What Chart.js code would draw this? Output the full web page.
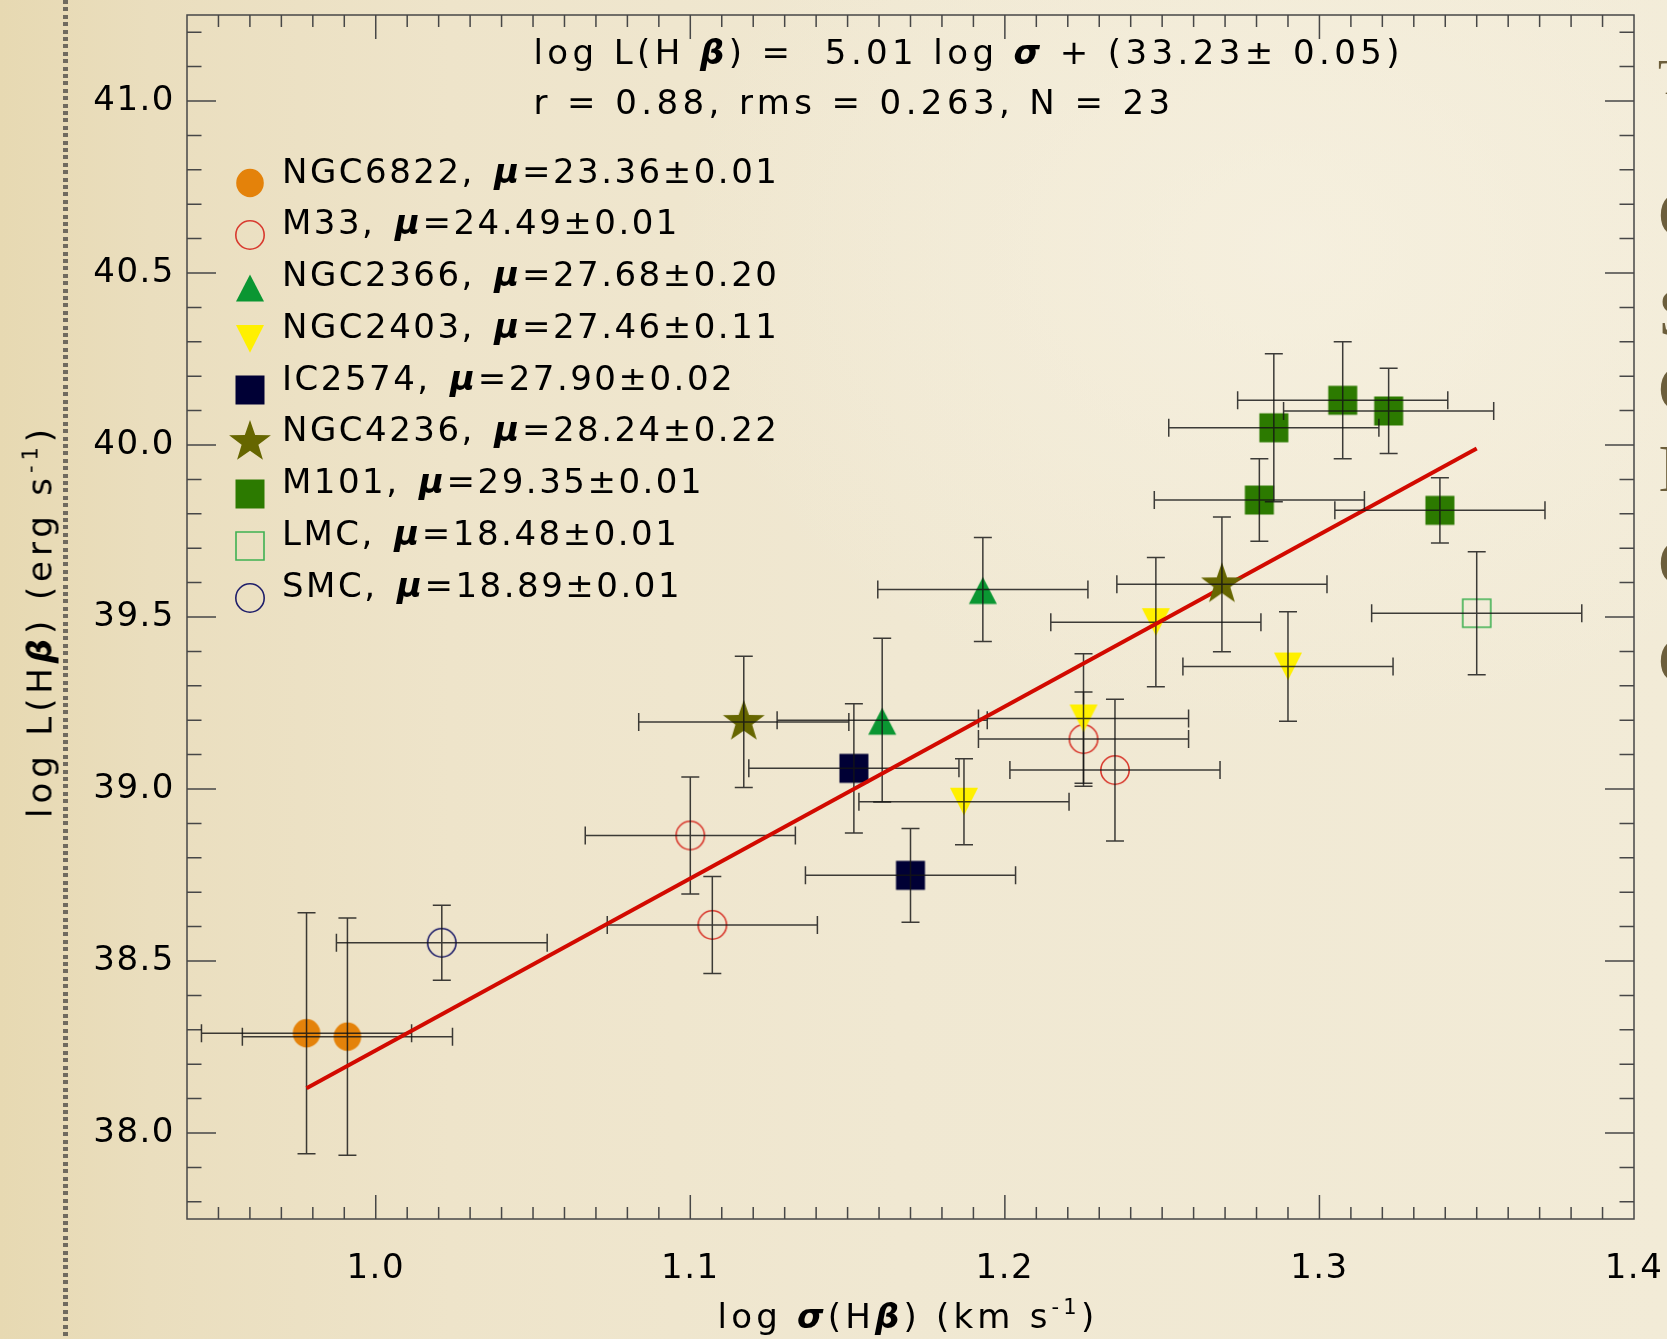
<!DOCTYPE html>
<html>
<head>
<meta charset="utf-8">
<script src="https://cdn.jsdelivr.net/npm/chart.js@4.4.1/dist/chart.umd.min.js"></script>
<style>
  html, body { margin:0; padding:0; width:1667px; height:1339px; overflow:hidden; }
  body {
    position:relative;
    font-family:'DejaVu Sans', sans-serif;
    background:
      radial-gradient(ellipse 900px 700px at 1300px 250px, rgba(248,243,228,0.6), rgba(248,243,228,0) 70%),
      linear-gradient(to right, #E7D9B2 0px, #EADEBE 150px, #EEE4CA 450px, #F0E8D2 900px, #F2EBD7 1667px);
  }
  #dots { position:absolute; left:63px; top:0; width:5px; height:1339px;
    background: repeating-linear-gradient(to bottom, rgba(105,100,90,0.95) 0px, rgba(105,100,90,0.95) 4px, rgba(0,0,0,0) 4px, rgba(0,0,0,0) 7.4px); }
  #wrap { position:absolute; left:0; top:0; width:1667px; height:1339px; }
  .t { position:absolute; font-size:34px; color:#000; white-space:pre; }
  .bi { font-weight:bold; font-style:italic; }
  .sup { position:relative; top:-14px; font-size:21px; }
  #eq { left:533.5px; top:26.5px; line-height:50px; letter-spacing:4.4px; }
  #legend { position:absolute; left:282px; top:145.5px; font-size:34px; line-height:51.8px; letter-spacing:2.5px; white-space:pre; color:#000; }
  .lrow { position:relative; height:51.8px; }
  .lmk { position:absolute; left:-58.3px; top:11.75px; }
  #xt { left:508px; width:800px; top:1296px; line-height:40px; text-align:center; letter-spacing:4.2px; }
  #yt { left:42px; top:621px; width:700px; line-height:40px; text-align:center; letter-spacing:4.9px;
        transform: translate(-50%, -50%) rotate(-90deg); }
  .side { position:absolute; left:1658px; font-family:'Liberation Serif', serif; font-size:68px; line-height:68px; color:#6c5e3b; }
</style>
</head>
<body>
<div id="dots"></div>
<div id="wrap"><canvas id="c"></canvas></div>

<div id="eq" class="t"><div>log L(H <span class="bi">β</span>) =  5.01 log <span class="bi">σ</span> + (33.23± 0.05)</div><div>r = 0.88, rms = 0.263, N = 23</div></div>
<div id="legend"></div>
<div id="xt" class="t">log <span class="bi">σ</span>(H<span class="bi">β</span>) (km s<span class="sup">-1</span>)</div>
<div id="yt" class="t">log L(H<span class="bi">β</span>) (erg s<span class="sup">-1</span>)</div>

<div class="side" style="top:52px; font-size:50px; line-height:50px;">T</div>
<div class="side" style="top:180px">C</div>
<div class="side" style="top:278px">S</div>
<div class="side" style="top:354px">C</div>
<div class="side" style="top:434px">I</div>
<div class="side" style="top:528px">C</div>
<div class="side" style="top:626px">C</div>

<script>
// ---------------- DATA ----------------
const galaxies = ["NGC6822", "M33", "NGC2366", "NGC2403", "IC2574", "NGC4236", "M101", "LMC", "SMC"];
const distanceModuli = ["23.36±0.01", "24.49±0.01", "27.68±0.20", "27.46±0.11", "27.90±0.02",
                        "28.24±0.22", "29.35±0.01", "18.48±0.01", "18.89±0.01"];

// log sigma(Hbeta) [km/s], log L(Hbeta) [erg/s] and their errors, per galaxy
const ngc6822LogSigma = [0.978, 0.991];
const ngc6822LogL     = [38.29, 38.28];
const ngc6822ErrSigma = [0.0334, 0.0334];
const ngc6822ErrL     = [0.350, 0.345];

const m33LogSigma = [1.100, 1.107, 1.225, 1.235];
const m33LogL     = [38.865, 38.605, 39.145, 39.055];
const m33ErrSigma = [0.0334, 0.0334, 0.0334, 0.0334];
const m33ErrL     = [0.170, 0.141, 0.137, 0.206];

const ngc2366LogSigma = [1.193, 1.161];
const ngc2366LogL     = [39.58, 39.20];
const ngc2366ErrSigma = [0.0334, 0.0334];
const ngc2366ErrL     = [0.151, 0.238];

const ngc2403LogSigma = [1.187, 1.225, 1.248, 1.290];
const ngc2403LogL     = [38.963, 39.205, 39.485, 39.356];
const ngc2403ErrSigma = [0.0334, 0.0334, 0.0334, 0.0334];
const ngc2403ErrL     = [0.125, 0.188, 0.188, 0.159];

const ic2574LogSigma = [1.152, 1.170];
const ic2574LogL     = [39.060, 38.749];
const ic2574ErrSigma = [0.0334, 0.0334];
const ic2574ErrL     = [0.188, 0.136];

const ngc4236LogSigma = [1.117, 1.269];
const ngc4236LogL     = [39.195, 39.595];
const ngc4236ErrSigma = [0.0334, 0.0334];
const ngc4236ErrL     = [0.191, 0.196];

const m101LogSigma = [1.2855, 1.3074, 1.3220, 1.2809, 1.3383];
const m101LogL     = [40.050, 40.130, 40.099, 39.840, 39.810];
const m101ErrSigma = [0.0334, 0.0334, 0.0334, 0.0334, 0.0334];
const m101ErrL     = [0.215, 0.170, 0.124, 0.120, 0.095];

const lmcLogSigma = [1.350];
const lmcLogL     = [39.511];
const lmcErrSigma = [0.0334];
const lmcErrL     = [0.179];

const smcLogSigma = [1.021];
const smcLogL     = [38.553];
const smcErrSigma = [0.0335];
const smcErrL     = [0.109];

// fitted relation: log L = 5.01 log sigma + 33.23 (end points as drawn)
const fitLogSigma = [0.978, 1.350];
const fitLogL     = [38.13, 39.99];

const xTickValues = [1.0, 1.1, 1.2, 1.3, 1.4];
const yTickValues = [38.0, 38.5, 39.0, 39.5, 40.0, 40.5, 41.0];

// ---------------- STYLE ----------------
const seriesArrays = {
  NGC6822: [ngc6822LogSigma, ngc6822LogL, ngc6822ErrSigma, ngc6822ErrL],
  M33:     [m33LogSigma, m33LogL, m33ErrSigma, m33ErrL],
  NGC2366: [ngc2366LogSigma, ngc2366LogL, ngc2366ErrSigma, ngc2366ErrL],
  NGC2403: [ngc2403LogSigma, ngc2403LogL, ngc2403ErrSigma, ngc2403ErrL],
  IC2574:  [ic2574LogSigma, ic2574LogL, ic2574ErrSigma, ic2574ErrL],
  NGC4236: [ngc4236LogSigma, ngc4236LogL, ngc4236ErrSigma, ngc4236ErrL],
  M101:    [m101LogSigma, m101LogL, m101ErrSigma, m101ErrL],
  LMC:     [lmcLogSigma, lmcLogL, lmcErrSigma, lmcErrL],
  SMC:     [smcLogSigma, smcLogL, smcErrSigma, smcErrL]
};
const markerStyle = {
  NGC6822: { kind: 'dot',    color: '#E4820A' },
  M33:     { kind: 'ring',   color: '#D8392E' },
  NGC2366: { kind: 'up',     color: '#0A9632' },
  NGC2403: { kind: 'down',   color: '#FFF000' },
  IC2574:  { kind: 'square', color: '#000035' },
  NGC4236: { kind: 'star',   color: '#666600' },
  M101:    { kind: 'square', color: '#2C7A00' },
  LMC:     { kind: 'box',    color: '#3FB152' },
  SMC:     { kind: 'ring',   color: '#1E1E6A' }
};
const drawSequence = ['NGC6822', 'M33', 'NGC2366', 'NGC2403', 'IC2574', 'FIT', 'NGC4236', 'M101', 'LMC', 'SMC'];
const FONT = "'DejaVu Sans', sans-serif";
const AXIS_COLOR = '#474747';

function makeMarker(kind, color) {
  const S = 52, m = S / 2;
  const c = document.createElement('canvas');
  c.width = S; c.height = S;
  const g = c.getContext('2d');
  g.fillStyle = color; g.strokeStyle = color; g.lineWidth = 1.6;
  g.beginPath();
  switch (kind) {
    case 'dot':    g.ellipse(m, m, 13.8, 14.2, 0, 0, 2 * Math.PI); g.fill(); break;
    case 'ring':   g.arc(m, m, 14.2, 0, 2 * Math.PI); g.stroke(); break;
    case 'up':     g.moveTo(m, m - 12.5); g.lineTo(m + 14, m + 14.5); g.lineTo(m - 14, m + 14.5); g.closePath(); g.fill(); break;
    case 'down':   g.moveTo(m - 14, m - 14); g.lineTo(m + 14, m - 14); g.lineTo(m, m + 13.7); g.closePath(); g.fill(); break;
    case 'square': g.rect(m - 14.5, m - 14.5, 29, 29); g.fill(); break;
    case 'box':    g.rect(m - 14, m - 14, 28, 28); g.stroke(); break;
    case 'star':
      for (let k = 0; k < 10; k++) {
        const r = k % 2 ? 8.8 : 22;
        const a = -Math.PI / 2 + k * Math.PI / 5;
        g.lineTo(m + r * Math.cos(a), m + r * Math.sin(a));
      }
      g.closePath(); g.fill(); break;
  }
  return c;
}

// ---------------- DATASETS ----------------
const datasets = drawSequence.map((name, d) => {
  const order = drawSequence.length - d;
  if (name === 'FIT') {
    return {
      label: 'fit', showLine: true, order,
      data: fitLogSigma.map((x, i) => ({ x, y: fitLogL[i] })),
      borderColor: '#D20A00', borderWidth: 4, pointRadius: 0, fill: false
    };
  }
  const [xs, ys, ex, ey] = seriesArrays[name];
  const st = markerStyle[name];
  return {
    label: name, order, showLine: false,
    data: xs.map((x, i) => ({ x, y: ys[i] })),
    errX: ex, errY: ey,
    pointStyle: makeMarker(st.kind, st.color),
    pointRadius: 14, backgroundColor: st.color, borderColor: st.color
  };
});

// ---------------- PLUGINS ----------------
const frameTicks = {
  id: 'frameTicks',
  beforeDraw(chart) { chart.ctx.letterSpacing = '1.5px'; },
  beforeDatasetsDraw(chart) {
    const { ctx, chartArea: a, scales: { x, y } } = chart;
    ctx.save();
    ctx.letterSpacing = '0px';
    ctx.strokeStyle = AXIS_COLOR;
    ctx.lineWidth = 1.5;
    ctx.strokeRect(a.left, a.top, a.right - a.left, a.bottom - a.top);
    ctx.beginPath();
    const xLo = Math.round(x.min * 100), xHi = Math.round(x.max * 100);
    for (let k = xLo + 1; k < xHi; k++) {
      const px = x.getPixelForValue(k / 100);
      const len = (k % 10 === 0) ? 24 : 12;
      ctx.moveTo(px, a.bottom); ctx.lineTo(px, a.bottom - len);
      ctx.moveTo(px, a.top); ctx.lineTo(px, a.top + len);
    }
    const yLo = Math.ceil(y.min * 10 - 1e-6), yHi = Math.floor(y.max * 10 + 1e-6);
    for (let k = yLo; k <= yHi; k++) {
      const py = y.getPixelForValue(k / 10);
      const len = (k % 5 === 0) ? 29 : 14.5;
      ctx.moveTo(a.left, py); ctx.lineTo(a.left + len, py);
      ctx.moveTo(a.right, py); ctx.lineTo(a.right - len, py);
    }
    ctx.stroke();
    ctx.restore();
  }
};

const errorBars = {
  id: 'errorBars',
  afterDatasetDraw(chart, args) {
    const ds = chart.data.datasets[args.index];
    if (!ds.errX) return;
    const { ctx, scales: { x, y } } = chart;
    const cap = 9;
    ctx.save();
    ctx.strokeStyle = 'rgba(20,20,20,0.82)';
    ctx.lineWidth = 1.5;
    ds.data.forEach((p, i) => {
      const px = x.getPixelForValue(p.x), py = y.getPixelForValue(p.y);
      const x0 = x.getPixelForValue(p.x - ds.errX[i]), x1 = x.getPixelForValue(p.x + ds.errX[i]);
      const y0 = y.getPixelForValue(p.y - ds.errY[i]), y1 = y.getPixelForValue(p.y + ds.errY[i]);
      ctx.beginPath();
      ctx.moveTo(x0, py); ctx.lineTo(x1, py);
      ctx.moveTo(x0, py - cap); ctx.lineTo(x0, py + cap);
      ctx.moveTo(x1, py - cap); ctx.lineTo(x1, py + cap);
      ctx.moveTo(px, y0); ctx.lineTo(px, y1);
      ctx.moveTo(px - cap, y0); ctx.lineTo(px + cap, y0);
      ctx.moveTo(px - cap, y1); ctx.lineTo(px + cap, y1);
      ctx.stroke();
    });
    ctx.restore();
  }
};

// ---------------- CHART ----------------
new Chart(document.getElementById('c'), {
  type: 'scatter',
  data: { datasets },
  options: {
    responsive: true,
    maintainAspectRatio: false,
    devicePixelRatio: 1,
    animation: false,
    events: [],
    layout: { padding: { left: 0, right: 33, top: 13, bottom: 0 } },
    plugins: { legend: { display: false }, tooltip: { enabled: false } },
    scales: {
      x: {
        type: 'linear', min: 0.94, max: 1.40,
        grid: { display: false, drawTicks: false },
        border: { display: false },
        ticks: {
          color: '#000', padding: 30, maxRotation: 0, autoSkip: false,
          font: { family: FONT, size: 34 },
          callback: v => v.toFixed(1)
        },
        afterBuildTicks: s => { s.ticks = xTickValues.map(v => ({ value: v })); },
        afterFit: s => { s.height = 120; s.paddingLeft = 0; s.paddingRight = 0; }
      },
      y: {
        type: 'linear', min: 37.75, max: 41.25,
        grid: { display: false, drawTicks: false },
        border: { display: false },
        ticks: {
          color: '#000', padding: 12, autoSkip: false,
          font: { family: FONT, size: 34 },
          callback: v => v.toFixed(1)
        },
        afterBuildTicks: s => { s.ticks = yTickValues.map(v => ({ value: v })); },
        afterFit: s => { s.width = 187; s.paddingTop = 0; s.paddingBottom = 0; }
      }
    }
  },
  plugins: [frameTicks, errorBars]
});

// ---------------- LEGEND (HTML text + marker swatches) ----------------
const legendBox = document.getElementById('legend');
galaxies.forEach((name, i) => {
  const row = document.createElement('div');
  row.className = 'lrow';
  row.innerHTML = name + ',\u2002<span class="bi">μ</span>=' + distanceModuli[i];
  const mk = makeMarker(markerStyle[name].kind, markerStyle[name].color);
  mk.className = 'lmk';
  row.prepend(mk);
  legendBox.appendChild(row);
});
</script>
</body>
</html>
